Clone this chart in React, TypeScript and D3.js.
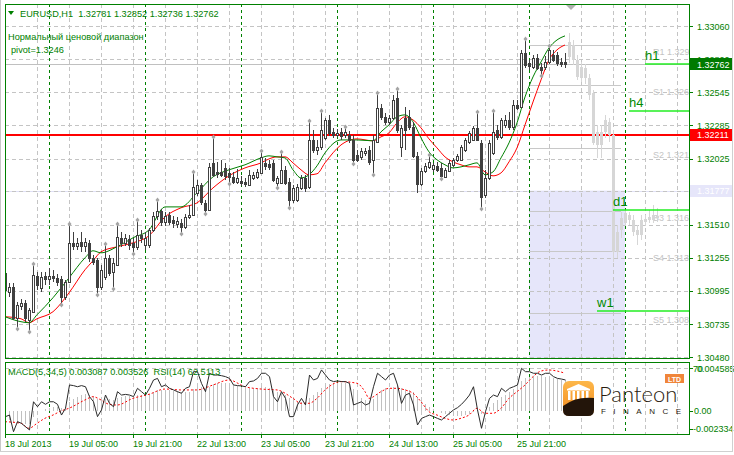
import * as d3 from "d3";

// EURUSD H1, 18 Jul 2013 13:00 onwards (one entry per bar)
const openP = [
  1.31136, 1.30988, 1.31027, 1.30786, 1.30879, 1.30902, 1.3077, 1.30833, 1.31113, 1.31019,
  1.31113, 1.31089, 1.31113, 1.31097, 1.31089, 1.30949, 1.31066, 1.3137, 1.31347, 1.31378,
  1.31347, 1.3137, 1.31253, 1.31238, 1.31027, 1.31105, 1.31253, 1.31144, 1.31199, 1.31409,
  1.3137, 1.31401, 1.3137, 1.31339, 1.31432, 1.31355, 1.31355, 1.31471, 1.3158, 1.31619,
  1.31534, 1.31588, 1.31549, 1.31518, 1.31526, 1.31495, 1.31572, 1.31588, 1.3176, 1.31822,
  1.31681, 1.31627, 1.31993, 1.31923, 1.31923, 1.31954, 1.31915, 1.31884, 1.31845, 1.31853,
  1.31845, 1.31822, 1.31876, 1.31884, 1.31915, 1.31993, 1.31985, 1.31993, 1.31837, 1.31837,
  1.31939, 1.31845, 1.31705, 1.31705, 1.31798, 1.31876, 1.31806, 1.32172, 1.32094, 1.32118,
  1.32188, 1.32328, 1.32235, 1.32211, 1.32235, 1.32211, 1.32211, 1.32172, 1.32055, 1.3204,
  1.32071, 1.32094, 1.32017, 1.32157, 1.32422, 1.32352, 1.32313, 1.32344, 1.32499, 1.32118,
  1.32344, 1.32352, 1.32274, 1.32048, 1.3183, 1.31931, 1.31962, 1.31946, 1.3197, 1.31954,
  1.31884, 1.31931, 1.31978, 1.32017, 1.32017, 1.32094, 1.32157, 1.32172, 1.32266, 1.32149,
  1.31744, 1.31876, 1.32071, 1.3225, 1.32196, 1.32289, 1.32328, 1.32274, 1.32445, 1.32429,
  1.3285, 1.32772, 1.32741, 1.32811, 1.32741, 1.32741, 1.3278, 1.32835, 1.32835, 1.3278,
  1.32781,
];
const highP = [
  1.3116, 1.31058, 1.31058, 1.3091, 1.30934, 1.30926, 1.30864, 1.31199, 1.31144, 1.31144,
  1.31144, 1.31175, 1.3116, 1.31128, 1.31113, 1.31082, 1.3151, 1.31456, 1.31409, 1.31456,
  1.31409, 1.31393, 1.31277, 1.31253, 1.31199, 1.31355, 1.31277, 1.31253, 1.3151, 1.31456,
  1.3144, 1.31432, 1.31409, 1.31541, 1.31471, 1.31456, 1.31487, 1.31611, 1.31697, 1.31635,
  1.31611, 1.31611, 1.3158, 1.31572, 1.31557, 1.31596, 1.31666, 1.31915, 1.31861, 1.31837,
  1.31705, 1.31993, 1.32188, 1.32001, 1.32017, 1.31993, 1.31954, 1.31923, 1.31946, 1.31892,
  1.31876, 1.31939, 1.31923, 1.31946, 1.32079, 1.32032, 1.32017, 1.32017, 1.31892, 1.32071,
  1.3197, 1.31876, 1.31822, 1.3183, 1.319, 1.319, 1.32313, 1.3225, 1.32172, 1.32391,
  1.32344, 1.32367, 1.32266, 1.32258, 1.32266, 1.32266, 1.32243, 1.32211, 1.32094, 1.3211,
  1.3211, 1.32126, 1.32211, 1.32531, 1.32453, 1.32383, 1.32367, 1.32523, 1.32562, 1.32289,
  1.32429, 1.32406, 1.32313, 1.32079, 1.31954, 1.31993, 1.32048, 1.31993, 1.32001, 1.31993,
  1.31954, 1.32017, 1.32032, 1.32063, 1.32133, 1.32188, 1.32243, 1.32281, 1.32383, 1.32172,
  1.31939, 1.32172, 1.32391, 1.32289, 1.32344, 1.32367, 1.32391, 1.32484, 1.32484, 1.32874,
  1.32951, 1.32796, 1.32835, 1.32842, 1.32772, 1.32827, 1.32897, 1.32874, 1.32858, 1.32811,
  1.32852,
];
const lowP = [
  1.30965, 1.30949, 1.3077, 1.30716, 1.30848, 1.30755, 1.30692, 1.30825, 1.31004, 1.30988,
  1.31043, 1.31043, 1.31066, 1.31035, 1.30902, 1.30926, 1.31058, 1.31316, 1.31316, 1.313,
  1.313, 1.31222, 1.31199, 1.3098, 1.31004, 1.31082, 1.31113, 1.31027, 1.31191, 1.31339,
  1.31347, 1.31316, 1.313, 1.31316, 1.3137, 1.31316, 1.31331, 1.31456, 1.31549, 1.31503,
  1.31503, 1.3151, 1.31487, 1.31487, 1.31456, 1.31479, 1.31557, 1.3158, 1.31736, 1.31666,
  1.31611, 1.31619, 1.31884, 1.31876, 1.31884, 1.31861, 1.31845, 1.3183, 1.3183, 1.31814,
  1.31806, 1.31814, 1.31861, 1.31869, 1.31908, 1.31939, 1.31939, 1.31845, 1.31814, 1.3183,
  1.31822, 1.31658, 1.31681, 1.31689, 1.31783, 1.31767, 1.31791, 1.32071, 1.32055, 1.32094,
  1.32172, 1.32203, 1.32188, 1.32196, 1.32172, 1.32188, 1.32149, 1.32001, 1.32001, 1.32017,
  1.32048, 1.31978, 1.31915, 1.32149, 1.32328, 1.32289, 1.32289, 1.32328, 1.32227, 1.3204,
  1.32094, 1.3225, 1.32032, 1.3176, 1.31814, 1.31915, 1.31946, 1.31923, 1.31923, 1.31884,
  1.31876, 1.31923, 1.31962, 1.32001, 1.32009, 1.32079, 1.32141, 1.32165, 1.32165, 1.3165,
  1.31721, 1.31861, 1.32055, 1.32172, 1.3218, 1.32266, 1.3225, 1.3225, 1.32406, 1.32422,
  1.32733, 1.32718, 1.32725, 1.32718, 1.32687, 1.32718, 1.32764, 1.3278, 1.32749, 1.32741,
  1.32736,
];
const closeP = [
  1.31004, 1.31027, 1.30786, 1.30887, 1.30902, 1.30786, 1.30848, 1.31121, 1.31043, 1.31105,
  1.31089, 1.31113, 1.31097, 1.31066, 1.30949, 1.31066, 1.3137, 1.31347, 1.3137, 1.31347,
  1.31378, 1.31253, 1.31222, 1.31027, 1.3116, 1.31253, 1.31136, 1.31214, 1.31417, 1.3137,
  1.31409, 1.31355, 1.31339, 1.31432, 1.31409, 1.31409, 1.31471, 1.3158, 1.31619, 1.31534,
  1.3158, 1.31534, 1.31526, 1.31541, 1.31495, 1.31572, 1.31588, 1.31806, 1.31822, 1.31689,
  1.31627, 1.31962, 1.319, 1.31908, 1.319, 1.31892, 1.31884, 1.31845, 1.31876, 1.31837,
  1.3183, 1.319, 1.319, 1.31923, 1.3204, 1.3197, 1.31962, 1.31861, 1.31876, 1.31939,
  1.31837, 1.31705, 1.31798, 1.31806, 1.31876, 1.31798, 1.32172, 1.32094, 1.32118, 1.3225,
  1.32328, 1.32227, 1.32211, 1.32227, 1.32203, 1.32235, 1.32172, 1.32017, 1.32017, 1.32087,
  1.32087, 1.32001, 1.32172, 1.32422, 1.32352, 1.32313, 1.32344, 1.32484, 1.3225, 1.32266,
  1.3225, 1.32274, 1.32048, 1.3183, 1.31931, 1.3197, 1.32001, 1.31978, 1.31939, 1.31892,
  1.31939, 1.31993, 1.32017, 1.32048, 1.32118, 1.32172, 1.32227, 1.32266, 1.32172, 1.31728,
  1.31876, 1.32149, 1.32235, 1.32196, 1.32328, 1.32328, 1.32274, 1.32445, 1.32422, 1.3285,
  1.32757, 1.32749, 1.32811, 1.32733, 1.32718, 1.3278, 1.32874, 1.32796, 1.32772, 1.32764,
  1.32762,
];

// projected (light grey) bars to the right of the last bar, starting at bar 141
const ghostBodyTop = [
  1.32936, 1.32912, 1.32796, 1.32741, 1.32733, 1.32655, 1.32539, 1.32235, 1.32235, 1.32328,
  1.32313, 1.32211, 1.31456, 1.31565, 1.31604, 1.31588, 1.31549, 1.31471, 1.31549, 1.31557,
  1.31572, 1.31588, 1.3158,
];
const ghostBodyBottom = [
  1.32819, 1.32796, 1.32663, 1.32655, 1.32655, 1.32523, 1.32149, 1.32133, 1.32133, 1.32235,
  1.32211, 1.313, 1.313, 1.31471, 1.31526, 1.31549, 1.31456, 1.31432, 1.31432, 1.31534,
  1.31549, 1.31549, 1.31565,
];
const ghostHigh = [
  1.33006, 1.32951, 1.32835, 1.3278, 1.32764, 1.32687, 1.32562, 1.32289, 1.32289, 1.32367,
  1.32344, 1.3225, 1.3151, 1.31611, 1.31627, 1.31611, 1.31588, 1.3151, 1.31588, 1.31588,
  1.31627, 1.31666, 1.31643,
];
const ghostLow = [
  1.32772, 1.32757, 1.3264, 1.32624, 1.32609, 1.32484, 1.32133, 1.32032, 1.32032, 1.32188,
  1.32157, 1.31222, 1.31253, 1.31409, 1.31503, 1.3151, 1.31425, 1.31355, 1.31393, 1.31503,
  1.31526, 1.31526, 1.31534,
];

const fractalUp = [7, 16, 25, 28, 33, 38, 47, 52, 64, 69, 76, 79, 85, 93, 98, 106, 118, 122, 130, 136];
const fractalDown = [3, 6, 14, 23, 27, 32, 44, 50, 56, 68, 71, 87, 92, 109, 119, 134];

const maIdx = [
  0, 4, 6, 8, 12, 16, 20, 22, 24, 28, 32, 36, 40, 44, 48, 52, 56, 60, 64, 66, 68, 70, 72, 74, 76, 78, 80,
  84, 88, 92, 94, 96, 98, 100, 102, 104, 106, 108, 110, 112, 114, 116, 118, 120, 122, 124, 126, 128,
  130, 132, 134, 136, 138, 140,
];
const fastMa = [
  1.30794, 1.30755, 1.30747, 1.30809, 1.30942, 1.31097, 1.31253, 1.31308, 1.31292, 1.31339, 1.31409,
  1.31471, 1.3165, 1.3165, 1.3176, 1.31884, 1.31939, 1.31978, 1.32032, 1.32048, 1.3204, 1.32032,
  1.31939, 1.31876, 1.319, 1.3197, 1.32071, 1.32172, 1.32172, 1.32165, 1.32235, 1.32289, 1.32352,
  1.32367, 1.32313, 1.32188, 1.32079, 1.32017, 1.31978, 1.31954, 1.31962, 1.31978, 1.31993, 1.319,
  1.31923, 1.32032, 1.32149, 1.32305, 1.32507, 1.32663, 1.3278, 1.32889, 1.32951, 1.32983,
];
const slowMa = [
  1.30794, 1.30778, 1.30747, 1.30778, 1.30833, 1.3098, 1.3116, 1.3123, 1.313, 1.31339, 1.3137,
  1.31425, 1.31572, 1.31643, 1.31681, 1.31798, 1.31892, 1.31954, 1.31993, 1.32024, 1.3204, 1.3204,
  1.31993, 1.31939, 1.319, 1.31908, 1.31993, 1.32133, 1.3218, 1.32165, 1.32196, 1.32227, 1.32305,
  1.32352, 1.32328, 1.32266, 1.3218, 1.3211, 1.3204, 1.32001, 1.31978, 1.31962, 1.31962, 1.31923,
  1.31892, 1.31915, 1.32001, 1.3211, 1.32289, 1.32468, 1.3264, 1.32796, 1.32874, 1.32912,
];

const macdMain = [
  -0.0008, -0.0009, -0.0011, -0.0011, -0.0011, -0.0012, -0.0012, -0.0006, -0.0003, 0.0,
  0.0002, 0.0003, 0.0004, 0.0004, 0.0003, 0.0004, 0.0009, 0.0012, 0.0014, 0.0016,
  0.0017, 0.0016, 0.0015, 0.0012, 0.0011, 0.0012, 0.0012, 0.0011, 0.0013, 0.0014,
  0.0015, 0.0015, 0.0014, 0.0016, 0.0016, 0.0016, 0.0017, 0.0019, 0.0021, 0.0021,
  0.0021, 0.0021, 0.002, 0.002, 0.0019, 0.0019, 0.0019, 0.0022, 0.0024, 0.0024,
  0.0022, 0.0024, 0.0027, 0.0028, 0.0028, 0.0028, 0.0027, 0.0026, 0.0025, 0.0024,
  0.0023, 0.0023, 0.0023, 0.0023, 0.0025, 0.0024, 0.0023, 0.0021, 0.0019, 0.0018,
  0.0016, 0.0013, 0.0011, 0.0009, 0.0009, 0.0009, 0.0013, 0.0016, 0.0019, 0.0023,
  0.0026, 0.0027, 0.0028, 0.0028, 0.0028, 0.0028, 0.0027, 0.0022, 0.0017, 0.0013,
  0.0011, 0.001, 0.0012, 0.0017, 0.0021, 0.0023, 0.0023, 0.0024, 0.0025, 0.0023,
  0.0022, 0.0021, 0.0019, 0.0014, 0.001, 0.0007, 0.0004, 0.0002, 0.0, -0.0002,
  -0.0003, -0.0004, -0.0005, -0.0005, -0.0005, -0.0004, -0.0003, -0.0001, 0.0001, -0.0003,
  0.0, 0.0004, 0.0008, 0.0011, 0.0014, 0.0016, 0.0019, 0.0022, 0.0025, 0.003,
  0.0033, 0.0034, 0.0035, 0.0035, 0.0035, 0.0034, 0.0034, 0.0033, 0.0032, 0.0031,
  0.0031,
];
const signalIdx = [
  0, 4, 6, 8, 10, 12, 14, 16, 20, 22, 24, 26, 28, 32, 36, 40, 44, 48, 52, 56, 60, 64, 68, 72, 74, 76,
  78, 80, 84, 88, 90, 91, 94, 96, 98, 100, 102, 104, 106, 108, 110, 112, 114, 116, 118, 120, 122, 124,
  126, 128, 130, 132, 134, 136, 138, 140,
];
const macdSignal = [
  -0.00102, -0.00118, -0.00167, -0.00118, -0.00068, -0.00036, 0.00004, 0.00031, 0.00113, 0.00145,
  0.00113, 0.0007, 0.00063, 0.00129, 0.00169, 0.00221, 0.00212, 0.00212, 0.00261, 0.0031, 0.00244,
  0.00221, 0.00212, 0.00129, 0.0008, 0.0008, 0.00129, 0.00212, 0.00294, 0.00278, 0.00195, 0.00129,
  0.00195, 0.00228, 0.00228, 0.00212, 0.00179, 0.00096, -0.00003, -0.00036, -0.00068, -0.00085,
  -0.00068, -0.00036, 0.00031, -0.00019, -0.00019, 0.00031, 0.00129, 0.00195, 0.00261, 0.00343,
  0.00399, 0.00409, 0.00399, 0.00377,
];
const rsi = [
  39.6, 40.6, 30.2, 36.5, 35.4, 33.3, 31.3, 48.9, 45.8, 48.9,
  47.3, 48.9, 48.9, 47.3, 40.6, 44.8, 59.4, 59.0, 58.3, 59.0,
  58.3, 52.1, 48.9, 39.6, 43.8, 53.1, 47.9, 45.8, 55.2, 53.1,
  53.5, 53.1, 52.1, 57.3, 55.2, 53.1, 57.3, 62.5, 63.5, 58.3,
  59.4, 57.3, 56.3, 55.2, 54.2, 57.3, 58.3, 67.7, 67.7, 60.4,
  55.2, 66.7, 65.6, 65.6, 65.2, 64.6, 63.5, 59.4, 59.0, 58.8,
  58.3, 61.5, 61.9, 63.5, 66.7, 66.7, 64.6, 52.1, 48.9, 55.2,
  51.0, 39.6, 39.6, 46.9, 51.0, 46.9, 65.6, 62.5, 63.5, 68.8,
  65.6, 62.5, 61.5, 61.9, 61.5, 61.5, 60.4, 46.9, 47.9, 48.9,
  46.9, 47.9, 58.3, 66.7, 64.6, 62.5, 65.6, 66.7, 59.4, 47.9,
  53.1, 54.2, 46.9, 34.4, 38.5, 39.6, 40.6, 39.6, 38.5, 37.5,
  39.6, 41.7, 43.8, 45.2, 47.3, 50.0, 53.1, 58.3, 43.8, 32.3,
  42.7, 51.0, 53.1, 52.1, 57.3, 55.2, 57.3, 58.3, 59.4, 69.8,
  67.7, 67.7, 66.7, 66.7, 65.6, 66.7, 66.7, 64.6, 63.5, 63.1,
  62.5,
];

const priceTicks = [1.3306, 1.328, 1.32545, 1.32285, 1.32025, 1.3177, 1.3151, 1.31255, 1.30995, 1.30735, 1.3048];
const timeLabels = [
  "18 Jul 2013", "19 Jul 05:00", "19 Jul 21:00", "22 Jul 13:00", "23 Jul 05:00",
  "23 Jul 21:00", "24 Jul 13:00", "25 Jul 05:00", "25 Jul 21:00",
];
const timeLabelBars = [0, 16, 32, 48, 64, 80, 96, 112, 128];
const daySeparatorBars = [11, 35, 59, 83, 107, 131, 155];

const pivotNames = ["R1", "S1", "S2", "S3", "S4", "S5"];
const pivotLevels = [1.3291, 1.326, 1.3211, 1.3162, 1.3131, 1.3082];
const tfNames = ["h1", "h4", "d1", "w1"];
const tfLevels = [1.32764, 1.32398, 1.31627, 1.3084];
const tfStartBars = [160, 156, 152, 148];

const bidPrice = 1.32762;
const redLevel = 1.32211;
const zoneLevel = 1.31777;
const zoneBars = [131, 155];

const GREEN = "#008000";
const FONT = "'Liberation Sans', Arial, sans-serif";
const L = 5, R = 689, TOP = 4, MAIN_B = 358, SUB_T = 362, SUB_B = 434;

const x = d3.scaleLinear().domain([0, 1]).range([5, 9]);
const y = d3.scaleLinear().domain([1.3048, 1.3306]).range([357, 26]);
const ySub = d3.scaleLinear().domain([-0.002334, 0.004585]).range([435, 365]);
const yRsi = d3.scaleLinear().domain([20, 70]).range([448, 368]);

const crisp = (v: number) => Math.round(v) + 0.5;

// small grey diamond used for fractal marks
const diamond = (cx: number, cy: number) =>
  `M${cx},${cy - 2.5}L${cx + 2},${cy}L${cx},${cy + 2.5}L${cx - 2},${cy}Z`;

export default function App() {
  const fastLine = d3.line<number>().x((_, k) => x(maIdx[k])).y((d) => y(d)).curve(d3.curveMonotoneX);
  const slowLine = d3.line<number>().x((_, k) => x(maIdx[k])).y((d) => y(d)).curve(d3.curveMonotoneX);
  const signalLine = d3.line<number>().x((_, k) => x(signalIdx[k])).y((d) => ySub(d)).curve(d3.curveMonotoneX);
  const rsiLine = d3.line<number>().x((_, k) => x(k) + 0.5).y((d) => yRsi(d));

  const gridXs = d3.range(1, 22).map((k) => L + 32 * k);
  const zero = Math.round(ySub(0));

  return (
    <div style={{ position: "fixed", left: 0, top: 0 }}>
      <svg width={734} height={455} style={{ display: "block", fontFamily: FONT }}>
        <defs>
          <clipPath id="mainClip">
            <rect x={L + 1} y={TOP + 1} width={R - L - 1} height={MAIN_B - TOP - 1} />
          </clipPath>
          <clipPath id="subClip">
            <rect x={L + 1} y={SUB_T + 1} width={R - L - 1} height={SUB_B - SUB_T - 1} />
          </clipPath>
          <linearGradient id="logoOrange" x1="0" y1="0" x2="0" y2="1">
            <stop offset="0" stopColor="#fdb74a" />
            <stop offset="1" stopColor="#f28a1e" />
          </linearGradient>
        </defs>
        <rect width={734} height={455} fill="#ffffff" />

        {/* main panel */}
        <g clipPath="url(#mainClip)">
          <rect
            x={x(zoneBars[0])}
            y={y(zoneLevel)}
            width={x(zoneBars[1]) - x(zoneBars[0])}
            height={MAIN_B - y(zoneLevel)}
            fill="#e6e6fa"
          />
          <line x1={L} x2={R} y1={crisp(y(zoneLevel))} y2={crisp(y(zoneLevel))} stroke="#e0e0f6" />
          {priceTicks.map((p) => (
            <line key={p} x1={L} x2={R} y1={crisp(y(p))} y2={crisp(y(p))} stroke="#c4c4c4" strokeDasharray="4,3" />
          ))}
          {gridXs.map((gx) => (
            <line key={gx} x1={gx + 0.5} x2={gx + 0.5} y1={TOP} y2={MAIN_B} stroke="#c4c4c4" strokeDasharray="4,3" />
          ))}
          {daySeparatorBars.map((b) => (
            <line key={b} x1={crisp(x(b))} x2={crisp(x(b))} y1={TOP} y2={MAIN_B} stroke={GREEN} strokeDasharray="3,3" />
          ))}
          {pivotLevels.map((p, k) => (
            <g key={pivotNames[k]}>
              <line x1={x(zoneBars[0])} x2={x(154)} y1={crisp(y(p))} y2={crisp(y(p))} stroke="#c8c8c8" />
              <text x={x(162)} y={y(p) + 10} fontSize={9} fill="#c4c4c4">
                {`${pivotNames[k]} ${p.toFixed(4)}`}
              </text>
            </g>
          ))}
          <line x1={L} x2={R} y1={crisp(y(bidPrice))} y2={crisp(y(bidPrice))} stroke="#c0c0c0" />
          <line x1={L} x2={R} y1={Math.round(y(redLevel))} y2={Math.round(y(redLevel))} stroke="#ff0000" strokeWidth={2} />

          {ghostHigh.map((h, k) => {
            const cx = Math.round(x(141 + k));
            const t = Math.round(y(ghostBodyTop[k]));
            const b = Math.round(y(ghostBodyBottom[k]));
            return (
              <g key={k}>
                <line x1={cx + 0.5} x2={cx + 0.5} y1={Math.round(y(h))} y2={Math.round(y(ghostLow[k]))} stroke="#d6d6d6" />
                <rect x={cx - 1} y={t} width={3} height={Math.max(b - t, 1)} fill="#d6d6d6" />
              </g>
            );
          })}

          <path d={slowLine(slowMa) ?? ""} fill="none" stroke="#ff0000" strokeWidth={1} />
          <path d={fastLine(fastMa) ?? ""} fill="none" stroke={GREEN} strokeWidth={1} />

          {openP.map((o, i) => {
            const c = closeP[i];
            const cx = Math.round(x(i));
            const top = Math.round(y(Math.max(o, c)));
            const bot = Math.round(y(Math.min(o, c)));
            const bull = c >= o;
            return (
              <g key={i}>
                <line x1={cx + 0.5} x2={cx + 0.5} y1={Math.round(y(highP[i]))} y2={Math.round(y(lowP[i]))} stroke="#404040" />
                <rect x={cx - 0.5} y={top + 0.5} width={2} height={Math.max(bot - top, 1)} fill={bull ? "#ffffff" : "#404040"} stroke="#404040" />
              </g>
            );
          })}

          {fractalUp.map((i) => (
            <path key={`u${i}`} d={diamond(Math.round(x(i)) + 0.5, Math.round(y(highP[i])) - 1)} fill="#a4a4a4" />
          ))}
          {fractalDown.map((i) => (
            <path key={`d${i}`} d={diamond(Math.round(x(i)) + 0.5, Math.round(y(lowP[i])) + 2)} fill="#a4a4a4" />
          ))}

          {tfLevels.map((p, k) => (
            <g key={tfNames[k]}>
              <line x1={x(tfStartBars[k])} x2={R} y1={Math.round(y(p))} y2={Math.round(y(p))} stroke="#22ee22" strokeWidth={1.5} />
              <text x={x(tfStartBars[k])} y={Math.round(y(p)) - 4} fontSize={13} fill="#008a00">
                {tfNames[k]}
              </text>
            </g>
          ))}
          <path d="M566,5L576,5L571,10Z" fill="#b0b0b0" />
        </g>

        {/* header */}
        <path d="M8,11L14,11L11,15Z" fill={GREEN} />
        <text x={20} y={17} fontSize={9.2} fill={GREEN} style={{ whiteSpace: "pre" }}>
          {"EURUSD,H1  1.32781 1.32852 1.32736 1.32762"}
        </text>
        <text x={8} y={40} fontSize={9.2} fill={GREEN}>Нормальный ценовой диапазон</text>
        <text x={11} y={53} fontSize={9.2} fill={GREEN}>pivot=1.3246</text>

        {/* sub panel */}
        <g clipPath="url(#subClip)">
          <line x1={L} x2={R} y1={368.5} y2={368.5} stroke="#c4c4c4" strokeDasharray="4,3" />
          {gridXs.map((gx) => (
            <line key={gx} x1={gx + 0.5} x2={gx + 0.5} y1={SUB_T} y2={SUB_B} stroke="#c4c4c4" strokeDasharray="4,3" />
          ))}
          {daySeparatorBars.map((b) => (
            <line key={b} x1={crisp(x(b))} x2={crisp(x(b))} y1={SUB_T} y2={SUB_B} stroke={GREEN} strokeDasharray="3,3" />
          ))}
          {macdMain.map((v, i) => (
            <line key={i} x1={crisp(x(i))} x2={crisp(x(i))} y1={zero} y2={Math.round(ySub(v))} stroke="#c0c0c0" />
          ))}
          <path d={signalLine(macdSignal) ?? ""} fill="none" stroke="#ff0000" strokeDasharray="2,2" />
          <path d={rsiLine(rsi) ?? ""} fill="none" stroke="#2a2a2a" />
        </g>
        <text x={8} y={375} fontSize={9.2} fill={GREEN} style={{ whiteSpace: "pre" }}>
          {"MACD(5,34,5) 0.003087 0.003526  RSI(14) 62.5113"}
        </text>

        {/* frames */}
        <rect x={L + 0.5} y={TOP + 0.5} width={R - L} height={MAIN_B - TOP} fill="none" stroke={GREEN} />
        <rect x={L + 0.5} y={SUB_T + 0.5} width={R - L} height={SUB_B - SUB_T} fill="none" stroke={GREEN} />

        {/* price axis */}
        {priceTicks.map((p) => (
          <g key={p}>
            <line x1={R} x2={R + 4} y1={crisp(y(p))} y2={crisp(y(p))} stroke={GREEN} />
            <text x={697} y={y(p) + 3.5} fontSize={9} fill={GREEN}>{p.toFixed(5)}</text>
          </g>
        ))}
        {[
          { p: bidPrice, bg: "#007a00" },
          { p: redLevel, bg: "#ff0000" },
          { p: zoneLevel, bg: "#e6e6fa" },
        ].map(({ p, bg }) => (
          <g key={p}>
            <rect x={R + 1} y={Math.round(y(p)) - 6} width={43} height={12} fill={bg} />
            <text x={697} y={y(p) + 3.5} fontSize={9} fill="#ffffff">{p.toFixed(5)}</text>
          </g>
        ))}

        {/* indicator axis */}
        {[368, Math.round(ySub(0)), 429].map((ty) => (
          <line key={ty} x1={R} x2={R + 4} y1={ty + 0.5} y2={ty + 0.5} stroke={GREEN} />
        ))}
        <text x={693} y={371.5} fontSize={9} fill={GREEN}>70</text>
        <text x={697} y={371.5} fontSize={9} fill={GREEN}>0.004585</text>
        <text x={694} y={ySub(0) + 3} fontSize={9} fill={GREEN}>0.00</text>
        <text x={693} y={432} fontSize={9} fill={GREEN}>-0.002334</text>

        {/* time axis */}
        {timeLabels.map((t, k) => {
          const tx = Math.round(x(timeLabelBars[k]));
          return (
            <g key={t}>
              <line x1={tx + 0.5} x2={tx + 0.5} y1={SUB_B} y2={SUB_B + 4} stroke={GREEN} />
              <text x={tx} y={447} fontSize={9} fill={GREEN}>{t}</text>
            </g>
          );
        })}

        {/* logo */}
        <g>
          <rect x={563} y={381} width={31} height={35} rx={6} fill="url(#logoOrange)" />
          <path d="M567,389L578.5,384L590,389Z" fill="#ffffff" />
          <rect x={567} y={389} width={23} height={1.5} fill="#ffffff" />
          {[568, 572.5, 577, 581.5, 586].map((cx) => (
            <rect key={cx} x={cx} y={391} width={2.5} height={9} fill="#ffffff" />
          ))}
          <path d="M563,406Q576,396 594,398L594,410Q594,416 588,416L569,416Q563,416 563,410Z" fill="#23150a" />
          <rect x={665} y={374} width={19} height={9} fill="#f0853a" />
          <text x={674.5} y={381.5} fontSize={7} fontWeight="bold" fill="#ffffff" textAnchor="middle">LTD</text>
          <text x={599} y={402} fontSize={22} fontWeight={300} fontFamily="Lato, 'Open Sans', sans-serif" fill="#2a1c0e">
            Panteon
          </text>
          <text x={601} y={414} fontSize={8} textLength={80} lengthAdjust="spacing" fill="#2a1c0e">FINANCE</text>
        </g>

        {/* window edges */}
        <line x1={0.5} x2={0.5} y1={0} y2={452} stroke="#c8c8c8" />
        <line x1={732.5} x2={732.5} y1={0} y2={452} stroke="#d0d0d0" />
        <line x1={0} x2={733} y1={451.5} y2={451.5} stroke="#d0d0d0" />
      </svg>
    </div>
  );
}
